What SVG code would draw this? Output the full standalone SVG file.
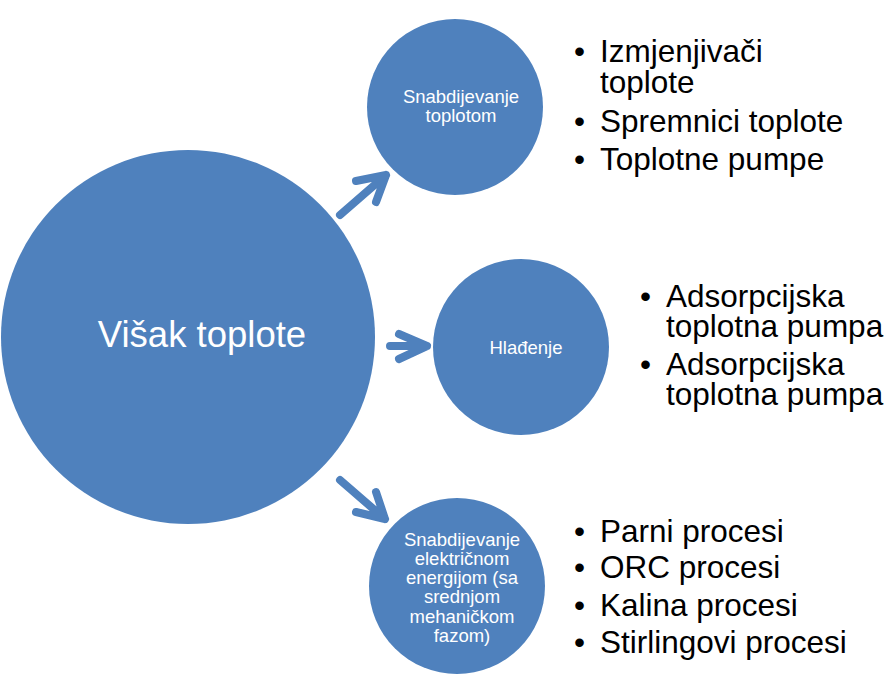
<svg xmlns="http://www.w3.org/2000/svg" width="886" height="674" viewBox="0 0 886 674">
<style>
.c{fill:#4F81BD}
.t{fill:#fff;font-family:"Liberation Sans",Arial,sans-serif;text-anchor:middle}
.s{font-size:18.5px}
.b{fill:#000;font-family:"Liberation Sans",Arial,sans-serif;font-size:31.5px}
.a{fill:none;stroke:#4F81BD;stroke-width:8;stroke-linecap:round;stroke-linejoin:round}
</style>
<rect width="886" height="674" fill="#fff"/>
<g id="main"><circle class="c" cx="188" cy="337" r="187"/><text class="t" x="202" y="347" font-size="36.5">Višak toplote</text></g>
<g id="heat"><circle class="c" cx="455" cy="107" r="88"/><text class="t s" x="461" y="103">Snabdijevanje</text><text class="t s" x="461" y="122">toplotom</text></g>
<g id="cool"><circle class="c" cx="521" cy="347" r="88"/><text class="t s" x="526" y="354">Hlađenje</text></g>
<g id="elec"><circle class="c" cx="457" cy="586" r="88"/>
<text class="t s"><tspan x="462" y="546">Snabdijevanje</tspan><tspan x="462" y="565">električnom</tspan><tspan x="462" y="584">energijom (sa</tspan><tspan x="462" y="603">srednjom</tspan><tspan x="462" y="623">mehaničkom</tspan><tspan x="462" y="642">fazom)</tspan></text></g>
<g id="connectors">
<path class="a" d="M340 215 L386 175 M356 181 L386 175 L376 202"/>
<path class="a" d="M390 346 L427 346 M399 334 L427 346 L399 359"/>
<path class="a" d="M340 480 L385 519 M356 512 L385 519 L376 492"/>
</g>
<g id="list1"><text class="b"><tspan x="574" y="62">•</tspan><tspan x="600" y="62">Izmjenjivači</tspan><tspan x="600" y="93">toplote</tspan><tspan x="574" y="132">•</tspan><tspan x="600" y="132">Spremnici toplote</tspan><tspan x="574" y="170">•</tspan><tspan x="600" y="170">Toplotne pumpe</tspan></text></g>
<g id="list2"><text class="b"><tspan x="640" y="307">•</tspan><tspan x="666" y="307">Adsorpcijska</tspan><tspan x="666" y="337">toplotna pumpa</tspan><tspan x="640" y="375">•</tspan><tspan x="666" y="375">Adsorpcijska</tspan><tspan x="666" y="405">toplotna pumpa</tspan></text></g>
<g id="list3"><text class="b"><tspan x="574" y="542">•</tspan><tspan x="600" y="542">Parni procesi</tspan><tspan x="574" y="578">•</tspan><tspan x="600" y="578">ORC procesi</tspan><tspan x="574" y="616">•</tspan><tspan x="600" y="616">Kalina procesi</tspan><tspan x="574" y="653">•</tspan><tspan x="600" y="653">Stirlingovi procesi</tspan></text></g>
</svg>
